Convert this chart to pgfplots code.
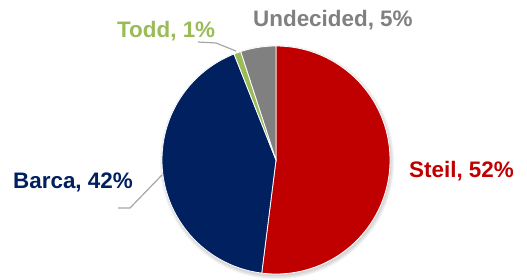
\documentclass[border=0pt]{standalone}
\usepackage{fontspec}
\setmainfont{Liberation Sans}
\usepackage{pgfplots}
\usepackage{pgfplotstable}
\pgfplotsset{compat=1.18}
\definecolor{cSteil}{HTML}{C00000}
\definecolor{cBarca}{HTML}{002060}
\definecolor{cTodd}{HTML}{9BBB59}
\definecolor{cUnd}{HTML}{808080}
\definecolor{cLead}{HTML}{A6A6A6}
\pgfplotstableread{
name value
Steil 52
Barca 42
Todd 1
Undecided 5
}\piedata
\pgfplotstablegetelem{0}{value}\of\piedata \let\vA\pgfplotsretval
\pgfplotstablegetelem{1}{value}\of\piedata \let\vB\pgfplotsretval
\pgfplotstablegetelem{2}{value}\of\piedata \let\vC\pgfplotsretval
\pgfplotstablegetelem{3}{value}\of\piedata \let\vD\pgfplotsretval
\pgfmathsetmacro{\aO}{90}
\pgfmathsetmacro{\aA}{\aO-3.6*\vA}
\pgfmathsetmacro{\aB}{\aA-3.6*\vB}
\pgfmathsetmacro{\aC}{\aB-3.6*\vC}
\pgfmathsetmacro{\aD}{\aC-3.6*\vD}
\begin{document}
\begin{tikzpicture}
\begin{axis}[
  x=1bp, y=1bp, xmin=0, xmax=527, ymin=0, ymax=277,
  hide axis, clip=false, scale only axis,
]
\path (axis cs:0,0) rectangle (axis cs:527,277);
% soft shadow
\fill[black, opacity=0.035] (axis cs:277,115) circle[radius=114bp];
\fill[black, opacity=0.035] (axis cs:277,115) circle[radius=114.8bp];
\fill[black, opacity=0.035] (axis cs:277,115) circle[radius=115.6bp];
\fill[black, opacity=0.035] (axis cs:277,115) circle[radius=116.4bp];
\fill[black, opacity=0.035] (axis cs:277,115) circle[radius=117.2bp];
\fill[cSteil, draw=white, line width=0.8bp] (axis cs:276,117) -- +(\aO:114bp) arc[start angle=\aO, end angle=\aA, radius=114bp] -- cycle;
\fill[cBarca, draw=white, line width=0.8bp] (axis cs:276,117) -- +(\aA:114bp) arc[start angle=\aA, end angle=\aB, radius=114bp] -- cycle;
\fill[cTodd, draw=white, line width=0.8bp] (axis cs:276,117) -- +(\aB:114bp) arc[start angle=\aB, end angle=\aC, radius=114bp] -- cycle;
\fill[cUnd, draw=white, line width=0.8bp] (axis cs:276,117) -- +(\aC:114bp) arc[start angle=\aC, end angle=\aD, radius=114bp] -- cycle;
% leader lines
\draw[cLead, line width=1.2bp] (axis cs:198,235) -- (axis cs:216,234) -- (axis cs:236,226);
\draw[cLead, line width=1.2bp] (axis cs:118,69) -- (axis cs:130,69) -- (axis cs:162,102);
% labels
\node[anchor=base west, inner sep=0pt, text=cUnd, font=\fontsize{22.5}{26}\selectfont\bfseries] at (axis cs:253,250) {Undecided, \vD\%};
\node[anchor=base west, inner sep=0pt, text=cTodd, font=\fontsize{22.5}{26}\selectfont\bfseries] at (axis cs:117,239) {Todd, \vC\%};
\node[anchor=base west, inner sep=0pt, text=cBarca, font=\fontsize{22.5}{26}\selectfont\bfseries] at (axis cs:13,89) {Barca, \vB\%};
\node[anchor=base west, inner sep=0pt, text=cSteil, font=\fontsize{22.5}{26}\selectfont\bfseries] at (axis cs:409,100) {Steil, \vA\%};
\end{axis}
\end{tikzpicture}
\end{document}
